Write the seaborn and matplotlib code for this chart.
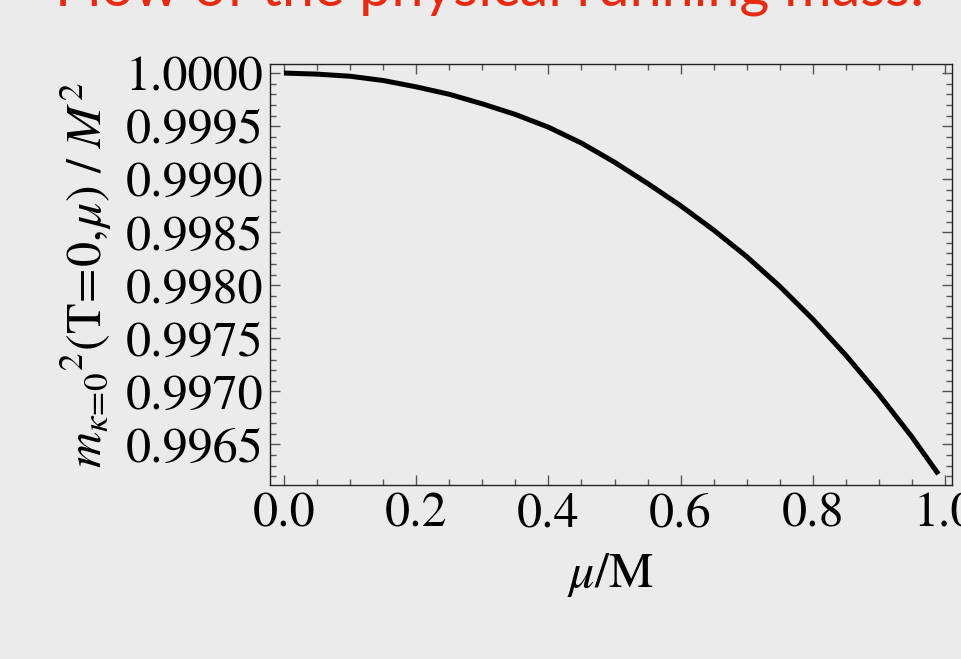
import numpy as np
import pandas as pd
import matplotlib
matplotlib.use("Agg")
import matplotlib.pyplot as plt
import seaborn as sns
from matplotlib.ticker import MultipleLocator, FormatStrFormatter

# Data
mu = [0.0, 0.05, 0.1, 0.15, 0.2, 0.25, 0.3, 0.35, 0.4, 0.45, 0.5,
      0.55, 0.6, 0.65, 0.7, 0.75, 0.8, 0.85, 0.9, 0.95, 0.99]
mass_ratio = [1.00000, 0.99999, 0.99997, 0.99993, 0.99987, 0.99980, 0.99971,
              0.99961, 0.99949, 0.99934, 0.99916, 0.99896, 0.99875, 0.99852,
              0.99827, 0.99799, 0.99768, 0.99734, 0.99697, 0.99657, 0.99622]
x_ticks = [0.0, 0.2, 0.4, 0.6, 0.8, 1.0]
y_ticks = [0.9965, 0.9970, 0.9975, 0.9980, 0.9985, 0.9990, 0.9995, 1.0000]

title_text = "Flow of the physical running mass."
x_label = r"$\mu$/M"
y_label = r"$m_{\kappa\!=\!0}{}^{2}(\mathrm{T}\!=\!0,\!\mu)\ /\ M^{2}$"

bg = "#ebebeb"
sns.set_style("ticks", {"axes.facecolor": bg, "figure.facecolor": bg,
                        "text.color": "black", "axes.labelcolor": "black",
                        "xtick.color": "#555555", "ytick.color": "#555555"})
plt.rcParams["font.family"] = ["STIXGeneral", "DejaVu Serif"]
plt.rcParams["mathtext.fontset"] = "stix"

df = pd.DataFrame({"mu": mu, "m2": mass_ratio})

fig = plt.figure(figsize=(9.61, 6.59), dpi=100)
ax = fig.add_axes([270 / 961, 1 - 485 / 659, (952 - 270) / 961, (485 - 64) / 659])
sns.lineplot(data=df, x="mu", y="m2", ax=ax, color="black", linewidth=3.6,
             solid_capstyle="butt", solid_joinstyle="round")

ax.set_xlim(-0.0212, 1.0106)
ax.set_ylim(0.996117, 1.0000855)
ax.set_xticks(x_ticks)
ax.set_yticks(y_ticks)
ax.xaxis.set_minor_locator(MultipleLocator(0.05))
ax.yaxis.set_minor_locator(MultipleLocator(0.0001))
ax.xaxis.set_major_formatter(FormatStrFormatter("%.1f"))
ax.yaxis.set_major_formatter(FormatStrFormatter("%.4f"))

ax.tick_params(which="both", direction="in", top=True, right=True,
               color="#555555", width=1.0, labelcolor="black")
ax.tick_params(which="major", length=7, labelsize=36, pad=5)
ax.tick_params(which="minor", length=4)
for s in ax.spines.values():
    s.set_visible(True)
    s.set_color("#222222")
    s.set_linewidth(1.0)

ax.set_xlabel(x_label, fontsize=36, labelpad=10, color="black")
ax.set_ylabel(y_label, fontsize=36, labelpad=8, color="black")

fig.text(0.509, 1 - 5 / 659, title_text, color="#e62b12", fontsize=41.5,
         family=["Lato", "DejaVu Sans"], ha="center", va="baseline")

fig.savefig("out.png", dpi=100, facecolor=bg)
